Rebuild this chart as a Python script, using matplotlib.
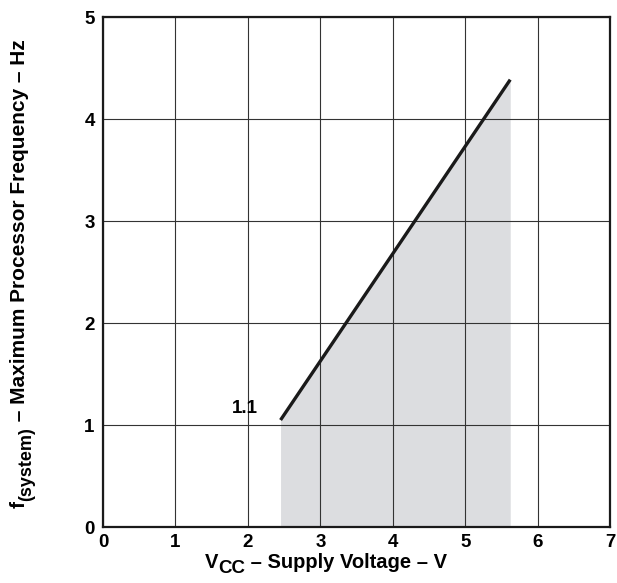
import matplotlib.pyplot as plt
from matplotlib.transforms import IdentityTransform

# data
vcc = [2.45, 5.62]
freq = [1.05, 4.39]
x_ticks = [0, 1, 2, 3, 4, 5, 6, 7]
y_ticks = [0, 1, 2, 3, 4, 5]
note_text = "1.1"

plt.rcParams['font.family'] = ['Liberation Sans', 'DejaVu Sans']
plt.rcParams['font.weight'] = 'bold'

W, H = 617, 583
fig = plt.figure(figsize=(W / 100, H / 100), dpi=100)
ax = fig.add_axes([0.167, 0.096, 0.822, 0.874])

# shaded operating area
ax.fill_between(vcc, 0, freq, color='#dcdde0', zorder=1, linewidth=0)
ax.plot(vcc, freq, color='#1a1a1a', linewidth=2.4, solid_capstyle='butt', zorder=3)

ax.set_xlim(0, 7)
ax.set_ylim(0, 5)
ax.set_xticks(x_ticks)
ax.set_yticks(y_ticks)
ax.tick_params(length=0, labelsize=13.5)
ax.tick_params(axis='y', pad=6)
ax.tick_params(axis='x', pad=5)
for lab in ax.get_xticklabels() + ax.get_yticklabels():
    lab.set_fontweight('bold')

ax.grid(True, color='#333333', linewidth=0.8, zorder=2)
ax.set_axisbelow(False)
for s in ax.spines.values():
    s.set_linewidth(1.6)
    s.set_color('#1a1a1a')
    s.set_zorder(4)

ax.text(1.96, 1.16, note_text, ha='center', va='center', fontsize=13.5, fontweight='bold')

# axis titles built from pieces so the subscripts keep a large size
renderer = fig.canvas.get_renderer()


def chain(pieces, x0, y0, vertical=False):
    pos = 0.0
    for txt, size, shift in pieces:
        if vertical:
            x, y, rot = x0 + shift, y0 + pos, 90
        else:
            x, y, rot = x0 + pos, y0 - shift, 0
        t = fig.text(x, y, txt, fontsize=size, fontweight='bold', rotation=rot,
                     rotation_mode='anchor', ha='left', va='baseline',
                     transform=IdentityTransform())
        bb = t.get_window_extent(renderer)
        pos += bb.height if vertical else bb.width


chain([("V", 14.5, 0), ("CC", 13.5, 5), (" – Supply Voltage – V", 14.5, 0)],
      205, H - 568)
chain([("f", 15, 0), ("(system)", 13, 6), (" – Maximum Processor Frequency – Hz", 15, 0)],
      25, H - 508, vertical=True)

fig.savefig('out.png', dpi=100)
